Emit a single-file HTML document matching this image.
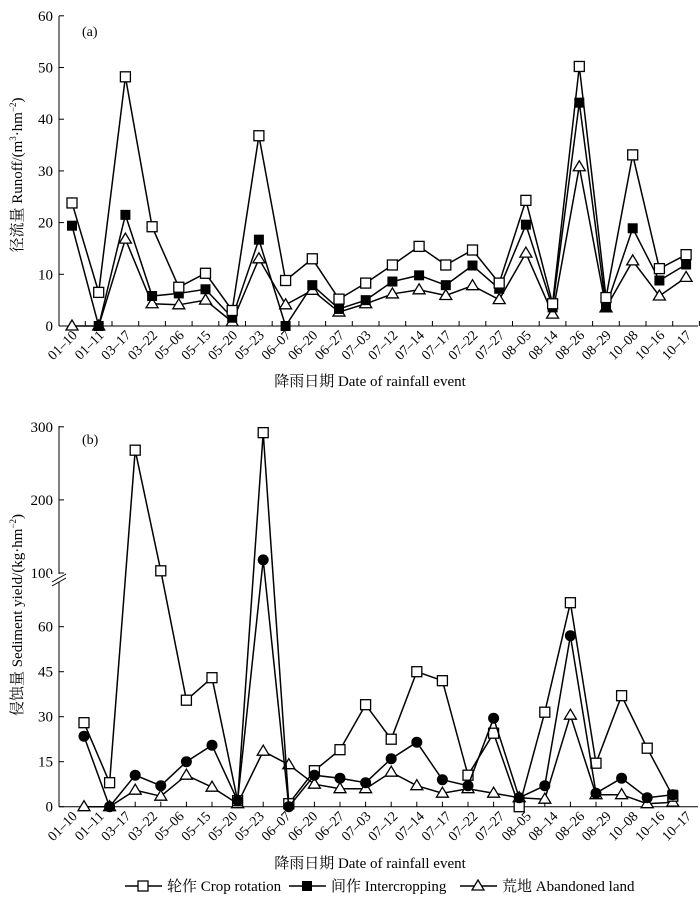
<!DOCTYPE html>
<html><head><meta charset="utf-8"><style>
body{margin:0;background:#fff}
svg text{font-family:"Liberation Serif","Noto Serif CJK SC",serif;fill:#000}
</style></head><body>
<svg id="c" width="700" height="896" viewBox="0 0 700 896" xmlns="http://www.w3.org/2000/svg"></svg>
<script>
const dateLabels=["01-10","01-11","03-17","03-22","05-06","05-15","05-20","05-23","06-07","06-20","06-27","07-03","07-12","07-14","07-17","07-22","07-27","08-05","08-14","08-26","08-29","10-08","10-16","10-17"];
const runoffCrop=[23.8,6.5,48.2,19.2,7.5,10.2,3,36.8,8.8,13,5.2,8.3,11.8,15.4,11.8,14.7,8.3,24.3,4.3,50.2,5.5,33.1,11.1,13.8];
const runoffInter=[19.4,0,21.5,5.8,6.3,7.1,1.6,16.7,0,7.9,3.3,5,8.6,9.8,7.9,11.7,7.2,19.6,3.6,43.2,3.7,18.9,8.8,11.9];
const runoffAband=[0,0,16.8,4.3,4.1,5,0.8,13,4.1,6.9,2.7,4.3,6.2,7,5.9,7.8,5.1,14.1,2.3,30.8,3.5,12.6,5.8,9.4];
const sedCrop=[28,8,268,103,35.5,43,2,292,1,12,19,34,22.5,45,42,10.5,24.5,0,31.5,68,14.5,37,19.5,3.5];
const sedInter=[23.5,0,10.5,7,15,20.5,2,118,0,10.5,9.5,8,16,21.5,9,7,29.5,3,7,57,4.5,9.5,3,4];
const sedAband=[0,0,5.5,3.5,10.5,6.5,1,18.5,14,7.5,6,6,11.5,7,4.5,6,4.5,3,2.5,30.5,4,4,1,1.5];
const runoffTicks=[0,10,20,30,40,50,60];
const sedTicks=[0,15,30,45,60,100,200,300];

const NS="http://www.w3.org/2000/svg";
const svg=document.getElementById('c');
function el(t,a,p){const e=document.createElementNS(NS,t);for(const k in a)e.setAttribute(k,a[k]);(p||svg).appendChild(e);return e;}

const xTop=i=>72+i*26.7;
const yTop=v=>326-v*5.17;
const xBot=i=>84+i*25.6;
const yBot=v=>v<=80?806.7-v*3.0:573-(v-100)*0.731;
const xLab=i=>78+i*26.7;

function axes(g,y0,yTop0,ticks,yf,name,tickXs,labY){
  const a=el('g',{},g);
  
  
  el('line',{x1:59,y1:yTop0,x2:59,y2:y0,stroke:'#000','stroke-width':1},a);
  el('line',{x1:59,y1:y0,x2:698,y2:y0,stroke:'#000','stroke-width':1},a);
  ticks.forEach(v=>{
    const y=yf(v);
    el('line',{x1:59,y1:y,x2:64,y2:y,stroke:'#000'},a);
    const t=el('text',{x:53,y:y+5,'text-anchor':'end','font-size':15},a);
    t.textContent=v;
    
    
  });
  tickXs.forEach(x=>el('line',{x1:x,y1:y0,x2:x,y2:y0-5,stroke:'#000'},a));
  dateLabels.forEach((d,i)=>{
    const x=xLab(i);
    const t=el('text',{x:x,y:labY,'text-anchor':'end','font-size':14,transform:`rotate(-45 ${x} ${labY})`},a);
    t.textContent=d.replace('-','–');
    
    
  });
}

function marker(g,type,x,y){
  if(type==='sq') el('rect',{x:x-5,y:y-5,width:10,height:10,fill:'#fff',stroke:'#000','stroke-width':1.3},g);
  else if(type==='fsq') el('rect',{x:x-5,y:y-5,width:10,height:10,fill:'#000'},g);
  else if(type==='dot') el('circle',{cx:x,cy:y,r:5.5,fill:'#000'},g);
  else el('polygon',{points:`${x},${y-6} ${x-6},${y+4} ${x+6},${y+4}`,fill:'#fff',stroke:'#000','stroke-width':1.3},g);
}
function series(vals,xf,yf,type,name){
  const g=el('g',{});
  
  
  el('polyline',{points:vals.map((v,i)=>xf(i)+','+yf(v)).join(' '),fill:'none',stroke:'#000','stroke-width':1.5},g);
  vals.forEach((v,i)=>marker(g,type,xf(i),yf(v)));
}

const ga=el('g',{});


const topTicks=[];for(let i=0;i<24;i++)topTicks.push(xTop(i)+13.3);
axes(ga,326,16,runoffTicks,yTop,'runoff',topTicks,336);
series(runoffAband,xTop,yTop,'tri','runoff-abandoned-line');
series(runoffInter,xTop,yTop,'fsq','runoff-intercropping-line');
series(runoffCrop,xTop,yTop,'sq','runoff-crop-rotation-line');
let t=el('text',{x:82,y:36,'font-size':14});t.textContent='(a)';

t=el('text',{x:370,y:386,'text-anchor':'middle','font-size':15});t.textContent='降雨日期 Date of rainfall event';

t=el('text',{x:22,y:175,'text-anchor':'middle','font-size':15,transform:'rotate(-90 22 175)'});
t.innerHTML='径流量 Runoff/(m<tspan font-size="9" dy="-6">3</tspan><tspan dy="6">·hm</tspan><tspan font-size="9" dy="-6">−2</tspan><tspan dy="6">)</tspan>';


const gb=el('g',{});


const botTicks=[];for(let i=0;i<24;i++)botTicks.push(xBot(i));
axes(gb,806.7,426,sedTicks,yBot,'sediment',botTicks,817);
el('rect',{x:50,y:574,width:18,height:8,fill:'#fff'},gb);
el('line',{x1:52,y1:582,x2:66,y2:574,stroke:'#000'},gb);
el('line',{x1:52,y1:586,x2:66,y2:578,stroke:'#000'},gb);
series(sedAband,xBot,yBot,'tri','sediment-abandoned-line');
series(sedCrop,xBot,yBot,'sq','sediment-crop-rotation-line');
series(sedInter,xBot,yBot,'dot','sediment-intercropping-line');
marker(svg,'fsq',xBot(23),yBot(sedInter[23]));
t=el('text',{x:82,y:444,'font-size':14});t.textContent='(b)';

t=el('text',{x:370,y:868,'text-anchor':'middle','font-size':15});t.textContent='降雨日期 Date of rainfall event';

t=el('text',{x:22,y:615,'text-anchor':'middle','font-size':15,transform:'rotate(-90 22 615)'});
t.innerHTML='侵蚀量 Sediment yield/(kg·hm<tspan font-size="9" dy="-6">−2</tspan><tspan dy="6">)</tspan>';


const lg=el('g',{});


[[125,'sq','轮作 Crop rotation'],[289,'fsq','间作 Intercropping'],[460,'tri','荒地 Abandoned land']].forEach(([x,ty,lab])=>{
  const e=el('g',{},lg);
  
  
  el('line',{x1:x,y1:886,x2:x+37,y2:886,stroke:'#000','stroke-width':1.5},e);
  marker(e,ty,x+18,886);
  const tt=el('text',{x:x+42,y:891,'font-size':15},e);tt.textContent=lab;
});
</script>
</body></html>
